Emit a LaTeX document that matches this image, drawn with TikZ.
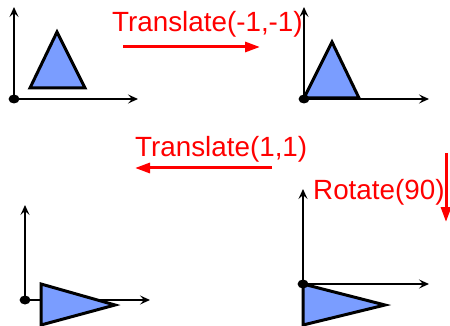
\documentclass[tikz,border=0pt]{standalone}
\usepackage{fontspec}
\setmainfont{Liberation Sans}
\usetikzlibrary{arrows.meta}

\definecolor{shapeblue}{RGB}{122,157,255}

\begin{document}
\begin{tikzpicture}[
x=1pt, y=-1pt,
axis/.style={
  line width=1.8pt,
  -{Stealth[length=10pt,width=9pt,inset=4pt]}
  },
tri/.style={
  draw=black,
  fill=shapeblue,
  line width=3pt,
  line join=miter
  },
op/.style={
  text=red,
  inner sep=0pt,
  font=\fontsize{27.8}{30}\selectfont
  },
move/.style={
  draw=red,
  line width=3pt,
  -{Triangle[length=15pt,width=10pt]}
  }
]
\useasboundingbox (0,0) rectangle (450,326);

% the four coordinate systems
\foreach \n/\ox/\oy/\xe/\ye in {a/14/99/138/7, b/304/99/429/7, c/25/300/150/205, d/303/284/429/189}
{
  \coordinate (o\n) at (\ox,\oy);
  \coordinate (x\n) at (\xe,\oy);
  \coordinate (y\n) at (\ox,\ye);
  \draw[axis] (o\n) -- (x\n);
  \draw[axis] (o\n) -- (y\n);
}

% the triangle at each step
\draw[tri] (30,88) -- (85,88) -- (57,32) -- cycle;
\draw[tri] (304,98) -- (359,98) -- (332,42) -- cycle;
\draw[tri] (41,284) -- (41,325) -- (115,305) -- cycle;
\draw[tri] (303,284) -- (303,325) -- (385,305) -- cycle;

\foreach \n in {a,b,c,d}
  \fill (o\n) ellipse (5.5 and 4.5);

% operations
\node[op, anchor=base west] (tr1) at (112,32) {Translate(-1,-1)};
\node[op, anchor=base west] (tr2) at (135,157) {Translate(1,1)};
\node[op, anchor=base west] (rot) at (313,200) {Rotate(90)};

\coordinate (m1s) at (123,47);
\coordinate (m1e) at (260,47);
\coordinate (m2s) at (272,168);
\coordinate (m2e) at (135,168);
\coordinate (m3s) at (446,153);
\coordinate (m3e) at (446,222);
\draw[move] (m1s) -- (m1e);
\draw[move] (m2s) -- (m2e);
\draw[move] (m3s) -- (m3e);
\end{tikzpicture}
\end{document}
